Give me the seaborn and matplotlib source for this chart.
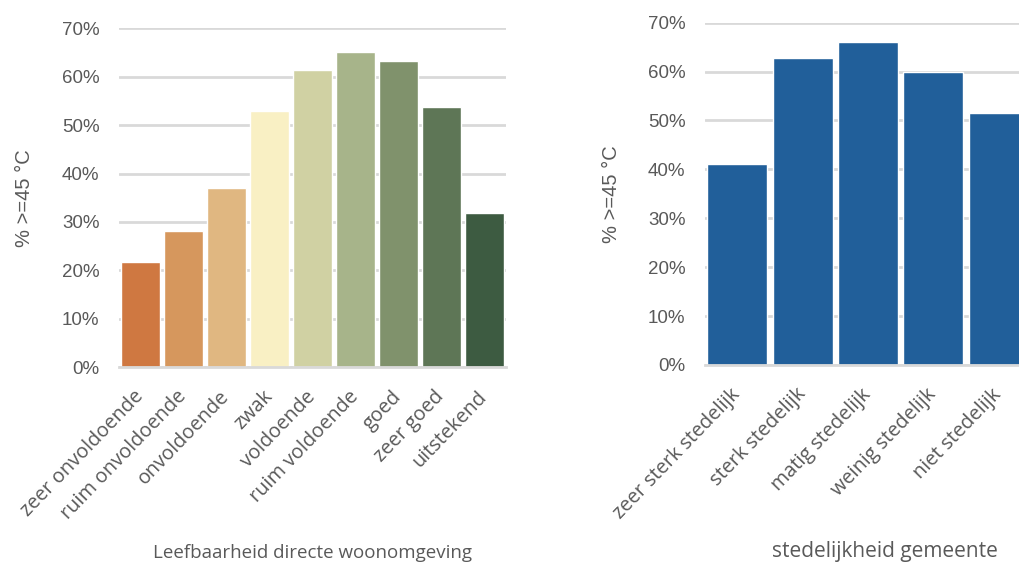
import numpy as np
import pandas as pd
import seaborn as sns
import matplotlib.pyplot as plt
from matplotlib.ticker import PercentFormatter

# data
leef_cats = ["zeer onvoldoende", "ruim onvoldoende", "onvoldoende", "zwak", "voldoende",
             "ruim voldoende", "goed", "zeer goed", "uitstekend"]
leef_vals = [21.7, 28.1, 37.0, 53.0, 61.4, 65.1, 63.3, 53.8, 31.8]
leef_colors = ["#CF7841", "#D6975D", "#E0B781", "#F9F0C4", "#D0D1A3",
               "#A7B48A", "#80926C", "#5E7656", "#3D5B41"]

sted_cats = ["zeer sterk stedelijk", "sterk stedelijk", "matig stedelijk",
             "weinig stedelijk", "niet stedelijk"]
sted_vals = [41.0, 62.8, 66.0, 59.8, 51.5]
sted_color = "#215F9A"

sns.set_style("white")
plt.rcParams['font.family'] = ['Liberation Sans', 'DejaVu Sans']

grey = "#595959"
gridc = "#D9D9D9"

fig = plt.figure(figsize=(10.2, 5.65), dpi=100)
ax1 = fig.add_axes([0.1167, 0.350, 0.379, 0.600])
ax2 = fig.add_axes([0.691, 0.354, 0.320, 0.606])

df1 = pd.DataFrame({"cat": leef_cats, "val": leef_vals})
df2 = pd.DataFrame({"cat": sted_cats, "val": sted_vals})

sns.barplot(data=df1, x="cat", y="val", hue="cat", palette=leef_colors,
            legend=False, width=0.91, saturation=1, ax=ax1)
sns.barplot(data=df2, x="cat", y="val", color=sted_color,
            width=0.92, saturation=1, ax=ax2)


def style(ax, xlabel, xl_x, xl_size, ylpad):
    ax.set_ylim(0, 70)
    ax.set_yticks(np.arange(0, 71, 10))
    ax.yaxis.set_major_formatter(PercentFormatter(decimals=0))
    ax.set_axisbelow(True)
    ax.yaxis.grid(True, color=gridc, lw=2)
    for s in ["top", "right", "left"]:
        ax.spines[s].set_visible(False)
    ax.spines["bottom"].set_color(gridc)
    ax.spines["bottom"].set_linewidth(2)
    ax.tick_params(axis="both", length=0, colors=grey)
    ax.tick_params(axis="y", labelsize=13.5, pad=14)
    ax.tick_params(axis="x", pad=19)
    for lab in ax.get_xticklabels():
        lab.set_rotation(46)
        lab.set_rotation_mode("anchor")
        lab.set_ha("right")
        lab.set_va("center")
        lab.set_fontsize(14.3)
        lab.set_family(["Open Sans", "DejaVu Sans"])
        lab.set_color(grey)
    ax.set_xlabel("")
    ax.set_ylabel("% >=45 °C", fontsize=14.5, color=grey, labelpad=ylpad)
    fig.text(xl_x, 0.006, xlabel, ha="center", va="bottom", fontsize=xl_size,
             color=grey, family=["Open Sans", "DejaVu Sans"])


style(ax1, "Leefbaarheid directe woonomgeving", 0.306, 13.5, 20)
style(ax2, "stedelijkheid gemeente", 0.868, 15, 19)

fig.savefig("out.png", dpi=100)
